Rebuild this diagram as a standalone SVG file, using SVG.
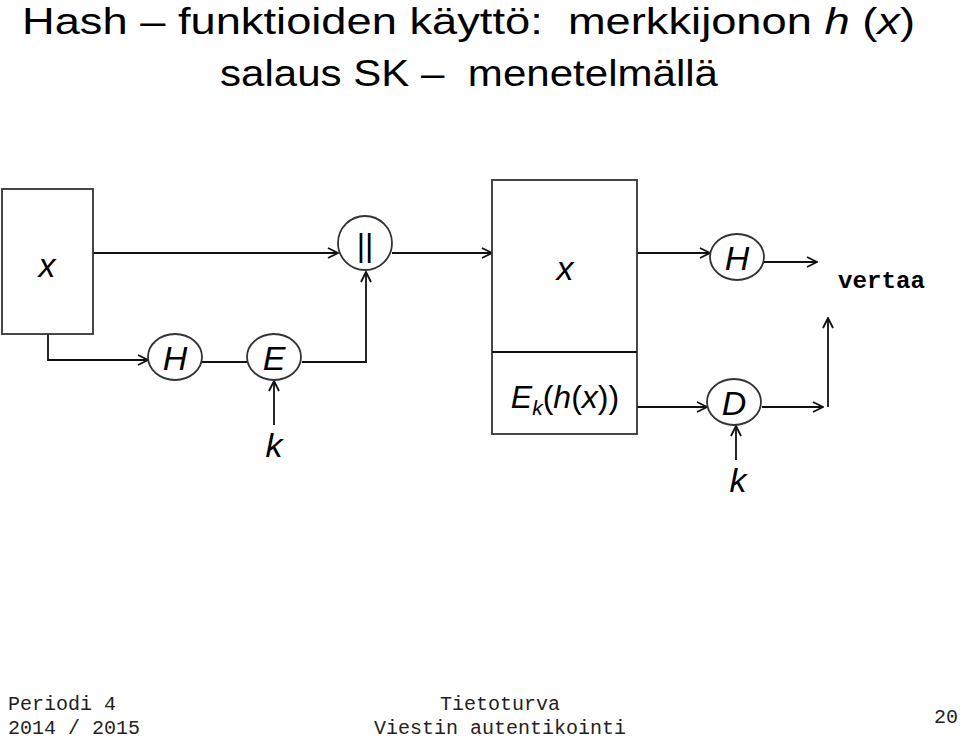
<svg xmlns="http://www.w3.org/2000/svg" width="960" height="740" viewBox="0 0 960 740">
<style>
.title{font-family:"Liberation Sans",Arial,sans-serif;font-size:36px;fill:#000;white-space:pre}
.lbl{font-family:"Liberation Sans",Arial,sans-serif;font-size:34px;fill:#000;font-style:italic}
.sm{font-family:"Liberation Sans",Arial,sans-serif;font-size:32px;fill:#000}
.mono{font-family:"Liberation Mono","Courier New",monospace;font-size:20px;fill:#222}
.shape{fill:#fff;stroke:#333;stroke-width:1.8}
.ln{fill:none;stroke:#111;stroke-width:1.8}
.arr{fill:none;stroke:#111;stroke-width:1.8;marker-end:url(#ah)}
</style>
<defs>
<marker id="ah" viewBox="0 0 12 12" refX="11" refY="6" markerWidth="12" markerHeight="12" markerUnits="userSpaceOnUse" orient="auto">
<path d="M1,1 L11,6 L1,11" fill="none" stroke="#111" stroke-width="1.8"/>
</marker>
</defs>
<rect width="960" height="740" fill="#fff"/>
<g id="title">
<text class="title" x="22" y="34" textLength="893" lengthAdjust="spacingAndGlyphs">Hash – funktioiden käyttö:  merkkijonon <tspan font-style="italic">h</tspan> (<tspan font-style="italic">x</tspan>)</text>
<text class="title" x="220" y="86" textLength="498" lengthAdjust="spacingAndGlyphs">salaus SK –  menetelmällä</text>
</g>
<g id="connectors">
<line class="arr" x1="90" y1="253" x2="338" y2="253"/>
<line class="arr" x1="392" y1="253" x2="492" y2="253"/>
<polyline class="arr" points="48,334 48,360 148,360"/>
<line class="ln" x1="202" y1="362" x2="247" y2="362"/>
<polyline class="arr" points="302,362 366,362 366,272"/>
<line class="arr" x1="274" y1="425" x2="274" y2="381"/>
<line class="arr" x1="637" y1="253" x2="710" y2="253"/>
<line class="arr" x1="764" y1="262" x2="817" y2="262"/>
<line class="arr" x1="637" y1="407" x2="707" y2="407"/>
<line class="arr" x1="762" y1="407" x2="823" y2="407"/>
<line class="arr" x1="828" y1="407" x2="828" y2="318"/>
<line class="arr" x1="736" y1="460" x2="736" y2="426"/>
</g>
<g id="box1">
<rect class="shape" x="2" y="189" width="91" height="145"/>
<text class="lbl" x="47" y="277" text-anchor="middle">x</text>
</g>
<g id="concat">
<ellipse class="shape" cx="365" cy="243" rx="27" ry="27"/>
<text class="sm" x="365" y="256" text-anchor="middle" font-size="34">||</text>
</g>
<g id="hash1">
<ellipse class="shape" cx="175" cy="357" rx="27" ry="23"/>
<text class="lbl" x="175" y="370" text-anchor="middle">H</text>
</g>
<g id="enc">
<ellipse class="shape" cx="274" cy="357" rx="27" ry="23"/>
<text class="lbl" x="274" y="370" text-anchor="middle">E</text>
</g>
<g id="k1">
<text class="lbl" x="274" y="457" text-anchor="middle">k</text>
</g>
<g id="box2">
<rect class="shape" x="492" y="180" width="145" height="254"/>
<line class="ln" x1="492" y1="352" x2="637" y2="352" stroke="#333"/>
<text class="lbl" x="565" y="280" text-anchor="middle">x</text>
<text class="sm" x="565" y="408" text-anchor="middle"><tspan font-style="italic">E</tspan><tspan font-style="italic" font-size="21" dy="7">k</tspan><tspan dy="-7">(</tspan><tspan font-style="italic">h</tspan>(<tspan font-style="italic">x</tspan>))</text>
</g>
<g id="hash2">
<ellipse class="shape" cx="737" cy="257" rx="27" ry="23"/>
<text class="lbl" x="737" y="270" text-anchor="middle">H</text>
</g>
<g id="dec">
<ellipse class="shape" cx="734" cy="402" rx="27" ry="23"/>
<text class="lbl" x="734" y="415" text-anchor="middle">D</text>
</g>
<g id="k2">
<text class="lbl" x="738" y="492" text-anchor="middle">k</text>
</g>
<g id="vertaa">
<text x="838" y="288" font-family="'Liberation Mono','Courier New',monospace" font-weight="bold" font-size="24" textLength="87" lengthAdjust="spacingAndGlyphs">vertaa</text>
</g>
<g id="footer">
<text class="mono" x="8" y="710">Periodi 4</text>
<text class="mono" x="8" y="734">2014 / 2015</text>
<text class="mono" x="500" y="710" text-anchor="middle">Tietoturva</text>
<text class="mono" x="500" y="734" text-anchor="middle">Viestin autentikointi</text>
<text class="mono" x="958" y="723" text-anchor="end">20</text>
</g>
</svg>
